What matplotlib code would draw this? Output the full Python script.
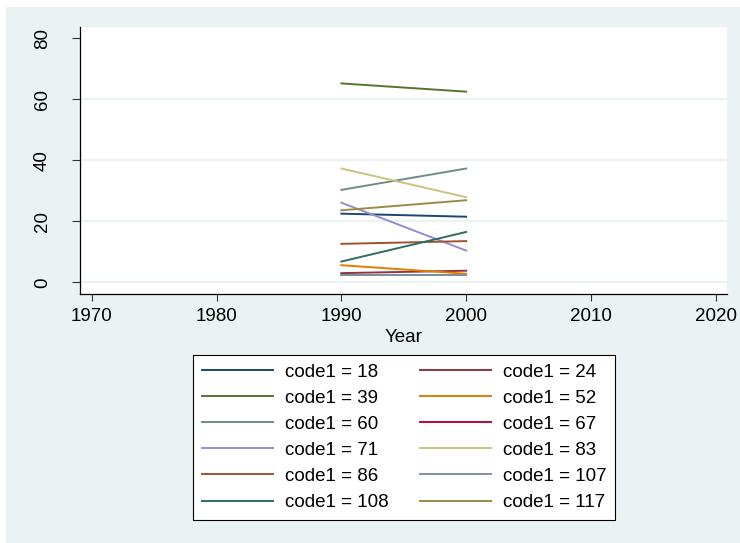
import matplotlib.pyplot as plt
from matplotlib.patches import Rectangle

# data
years = [1990, 2000]
codes = [18, 24, 39, 52, 60, 67, 71, 83, 86, 107, 108, 117]
values = {
    18: [22.5, 21.5],
    24: [3.0, 3.8],
    39: [65.2, 62.5],
    52: [5.6, 2.8],
    60: [30.3, 37.3],
    67: [2.3, 2.3],
    71: [26.1, 10.4],
    83: [37.3, 27.9],
    86: [12.6, 13.5],
    107: [2.3, 2.3],
    108: [6.8, 16.5],
    117: [23.6, 26.9],
}
x_ticks = [1970, 1980, 1990, 2000, 2010, 2020]
y_ticks = [0, 20, 40, 60, 80]

# Stata s2color palette
colors = ["#1a476f", "#90353b", "#55752f", "#e37e00", "#6e8e84", "#c10534",
          "#938dd2", "#cac27e", "#a0522d", "#7b92a8", "#2d6d66", "#9c8847"]

plt.rcParams['font.family'] = ['Liberation Sans', 'DejaVu Sans']

fig = plt.figure(figsize=(7.4, 5.43), dpi=100, facecolor="white")
# bluish graph region (small white margin top/left)
fig.patches.append(Rectangle((6 / 740, 0), 1, 1 - 7 / 543, transform=fig.transFigure,
                             facecolor="#eaf2f3", edgecolor="none", zorder=-10))

ax = fig.add_axes([80 / 740, 1 - 294 / 543, (727 - 80) / 740, (294 - 27) / 543])
ax.set_facecolor("white")

lines = {}
for code, c in zip(codes, colors):
    ln, = ax.plot(years, values[code], color=c, lw=1.4, label=f"code1 = {code}")
    lines[code] = ln

ax.set_xlim(1969.06, 2020.9)
ax.set_ylim(-3.84, 83.7)
ax.set_xticks(x_ticks)
ax.set_yticks(y_ticks)
ax.tick_params(axis="x", labelsize=13.5, length=5, width=0.8, pad=5, colors="#333333", labelcolor="black")
ax.tick_params(axis="y", labelsize=13.5, length=6, width=0.8, pad=15, colors="#333333", labelcolor="black",
               labelrotation=90)
for lab in ax.get_yticklabels():
    lab.set_va("center")

ax.grid(axis="y", color="#eaf2f3", lw=1.6)
ax.set_axisbelow(True)
ax.yaxis.get_gridlines()[-1].set_visible(False)

for side in ["top", "right"]:
    ax.spines[side].set_visible(False)
for side in ["left", "bottom"]:
    ax.spines[side].set_color("black")
    ax.spines[side].set_linewidth(0.9)

ax.set_xlabel("Year", fontsize=13.5, labelpad=3)

# legend in row-major order, two columns
order = [18, 39, 60, 71, 86, 108, 24, 52, 67, 83, 107, 117]
leg = fig.legend([lines[k] for k in order], [lines[k].get_label() for k in order],
                 ncol=2, loc="center", bbox_to_anchor=(404 / 740, 1 - 437.3 / 543),
                 fontsize=13.5, frameon=True, fancybox=False, edgecolor="black",
                 facecolor="white", framealpha=1, handlelength=3.8, handletextpad=0.63,
                 columnspacing=1.67, labelspacing=0.48, borderpad=0.45)
leg.get_frame().set_linewidth(0.8)

fig.savefig("out.png", dpi=100, facecolor=fig.get_facecolor())
